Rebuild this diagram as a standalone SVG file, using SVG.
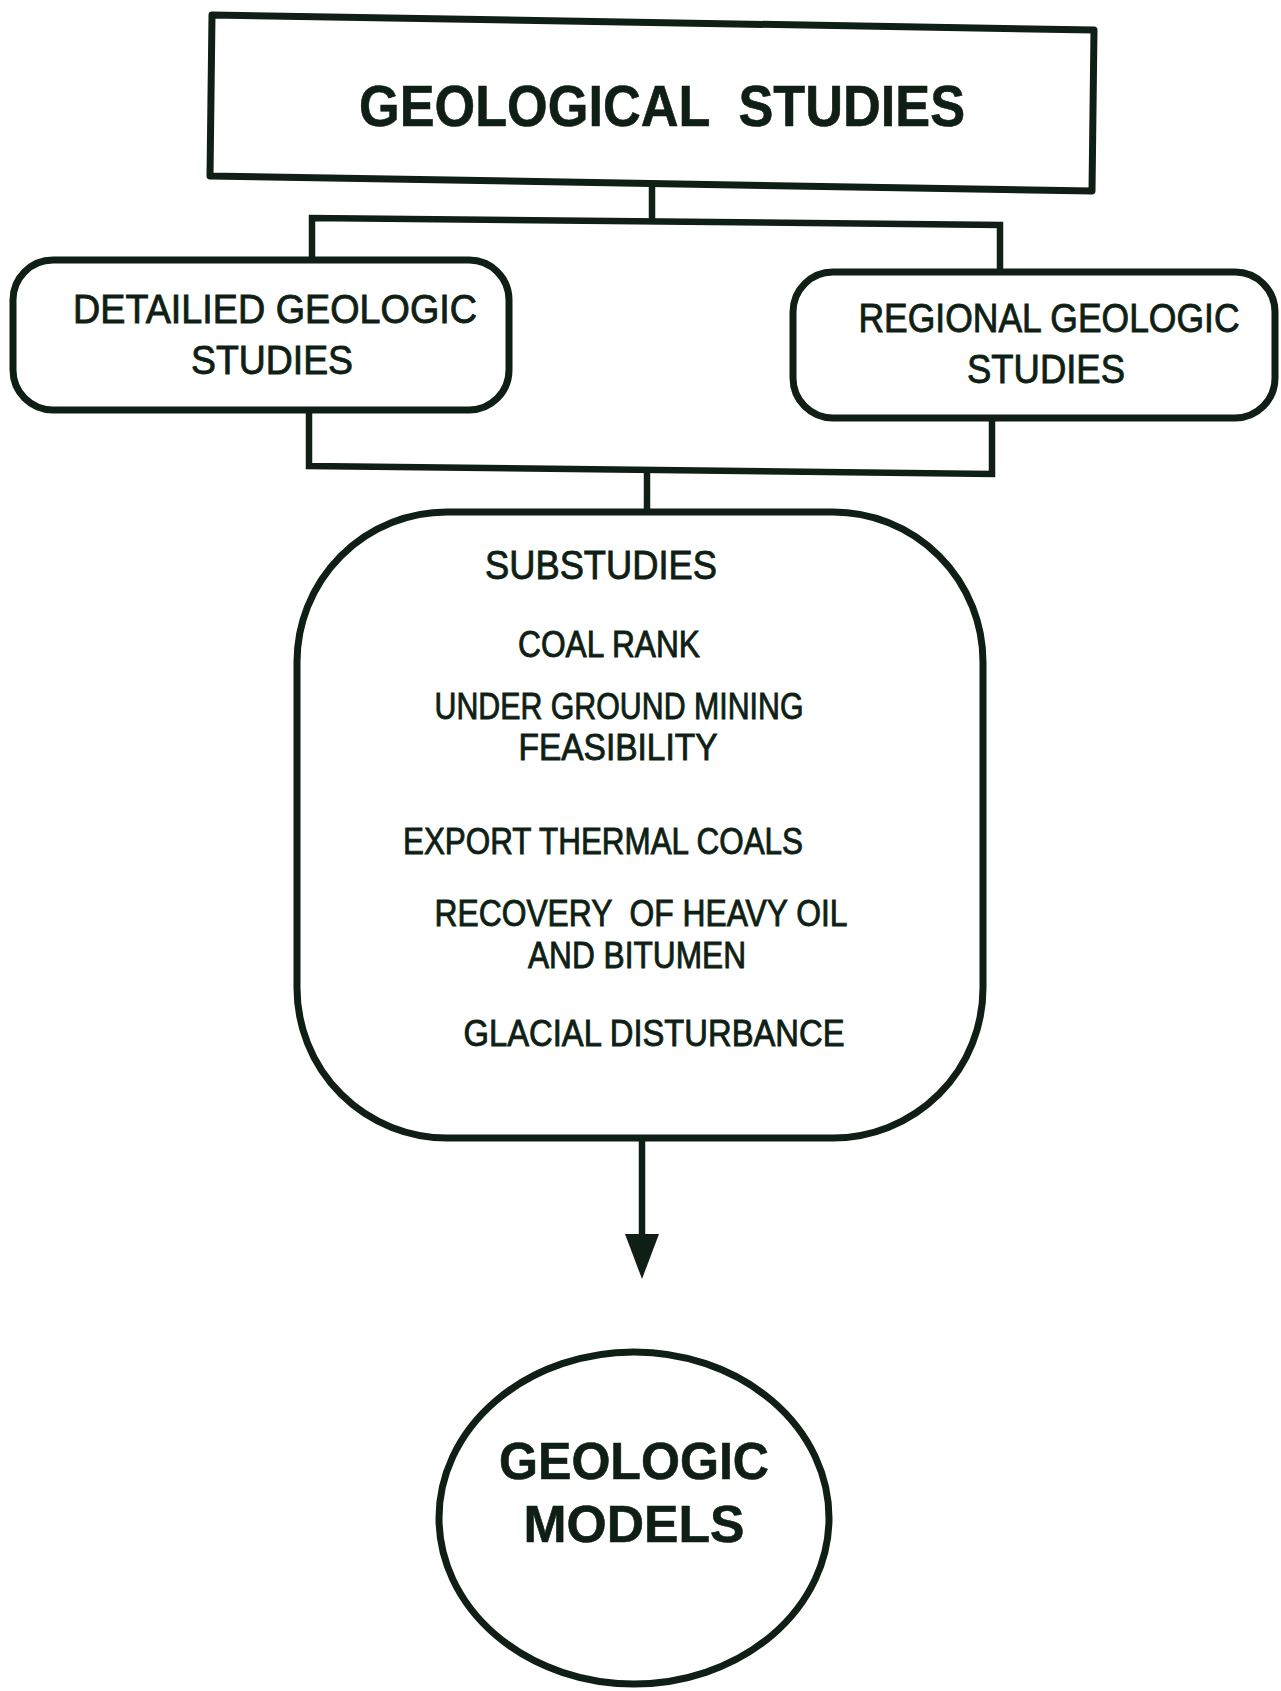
<svg xmlns="http://www.w3.org/2000/svg" width="1281" height="1691" viewBox="0 0 1281 1691">
<style>
.shape{fill:#fff;stroke:#0f1f15;stroke-width:7;stroke-linejoin:round}
.line{fill:none;stroke:#0f1f15;stroke-width:6.5;stroke-linecap:square}
.t{font-family:"Liberation Sans",Arial,sans-serif;fill:#0f1f15;text-anchor:middle;white-space:pre;stroke:#0f1f15;stroke-width:0.9}
.b{font-weight:bold;stroke-width:0.6}
</style>
<rect width="1281" height="1691" fill="#fff"/>
<g id="connectors">
<polyline class="line" points="652,190 652,220"/>
<polyline class="line" points="312,262 312,218 1000,225 1000,270"/>
<polyline class="line" points="309,410 309,466 992,474 992,420"/>
<polyline class="line" points="647,472 647,523"/>
<line class="line" x1="642" y1="1140" x2="642" y2="1240"/>
<polygon points="625,1234 659,1234 642,1279" fill="#0f1f15"/>
</g>
<g id="geological-studies">
<polygon class="shape" points="212,15 1094,30 1092,191 210,176"/>
<text class="t b" x="662" y="126" font-size="58" textLength="606" lengthAdjust="spacingAndGlyphs" xml:space="preserve">GEOLOGICAL  STUDIES</text>
</g>
<g id="detailed">
<rect class="shape" x="13" y="260" width="496" height="150" rx="40"/>
<text class="t" x="275" y="323" font-size="41" textLength="404" lengthAdjust="spacingAndGlyphs">DETAILIED GEOLOGIC</text>
<text class="t" x="272" y="374" font-size="41" textLength="162" lengthAdjust="spacingAndGlyphs">STUDIES</text>
</g>
<g id="regional">
<rect class="shape" x="793" y="272" width="482" height="146" rx="40"/>
<text class="t" x="1049" y="332" font-size="41" textLength="381" lengthAdjust="spacingAndGlyphs">REGIONAL GEOLOGIC</text>
<text class="t" x="1046" y="383" font-size="41" textLength="158" lengthAdjust="spacingAndGlyphs">STUDIES</text>
</g>
<g id="substudies">
<rect class="shape" x="297" y="512" width="686" height="626" rx="150"/>
<text class="t" x="601" y="579" font-size="40" textLength="232" lengthAdjust="spacingAndGlyphs">SUBSTUDIES</text>
<text class="t" x="609" y="657" font-size="37" textLength="182" lengthAdjust="spacingAndGlyphs">COAL RANK</text>
<text class="t" x="619" y="719" font-size="37" textLength="369" lengthAdjust="spacingAndGlyphs">UNDER GROUND MINING</text>
<text class="t" x="618" y="760" font-size="37" textLength="199" lengthAdjust="spacingAndGlyphs">FEASIBILITY</text>
<text class="t" x="603" y="854" font-size="37" textLength="400" lengthAdjust="spacingAndGlyphs">EXPORT THERMAL COALS</text>
<text class="t" x="641" y="926" font-size="37" textLength="413" lengthAdjust="spacingAndGlyphs" xml:space="preserve">RECOVERY  OF HEAVY OIL</text>
<text class="t" x="637" y="968" font-size="37" textLength="218" lengthAdjust="spacingAndGlyphs">AND BITUMEN</text>
<text class="t" x="654" y="1046" font-size="37" textLength="381" lengthAdjust="spacingAndGlyphs">GLACIAL DISTURBANCE</text>
</g>
<g id="geologic-models">
<ellipse class="shape" cx="634" cy="1518" rx="195" ry="166"/>
<text class="t b" x="634" y="1479" font-size="52" textLength="270" lengthAdjust="spacingAndGlyphs">GEOLOGIC</text>
<text class="t b" x="634" y="1542" font-size="52" textLength="221" lengthAdjust="spacingAndGlyphs">MODELS</text>
</g>
</svg>
